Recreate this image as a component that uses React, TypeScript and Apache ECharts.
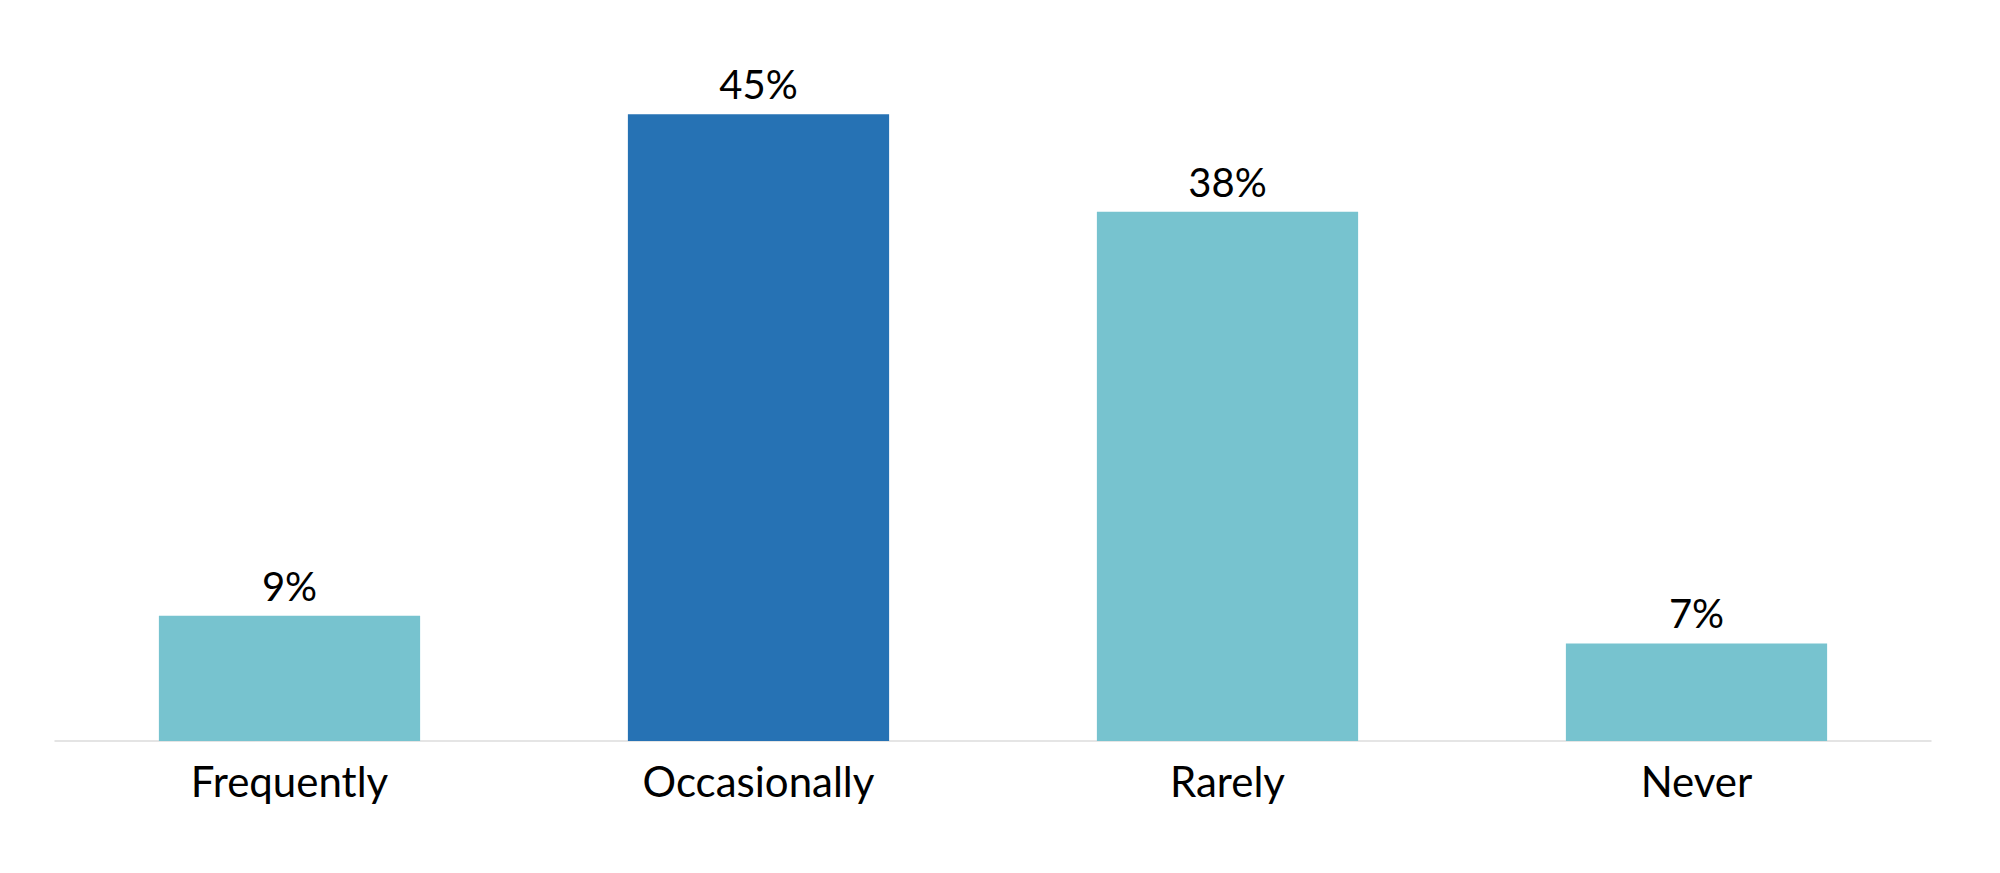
import React, { useEffect, useRef } from 'react';
import * as echarts from 'echarts';

const categories = ['Frequently', 'Occasionally', 'Rarely', 'Never'];
const values = [9, 45, 38, 7];
const highlight = 'Occasionally';

const LIGHT = '#77C3CF';
const DARK = '#2672B4';

const App: React.FC = () => {
  const chartRef: any = useRef();

  useEffect(() => {
    const chart = echarts.init(chartRef.current, null, { renderer: 'svg' });
    const option = {
      animation: false,
      textStyle: { fontFamily: 'Lato' },
      grid: { left: 55, right: 69, top: 44.5, bottom: 132, containLabel: false },
      xAxis: {
        type: 'category',
        data: categories,
        axisLine: { show: true, lineStyle: { color: '#DCDCDC', width: 1.5 } },
        axisTick: { show: false },
        axisLabel: { color: '#000', fontSize: 42, margin: 19, fontFamily: 'Lato' },
      },
      yAxis: {
        type: 'value',
        min: 0,
        max: 50,
        show: false,
        splitLine: { show: false },
      },
      series: [
        {
          type: 'bar',
          barCategoryGap: '44.3%',
          data: values.map((v, i) => ({
            value: v,
            itemStyle: { color: categories[i] === highlight ? DARK : LIGHT },
          })),
          label: {
            show: true,
            position: 'top',
            distance: 10,
            color: '#000',
            fontSize: 40,
            fontFamily: 'Lato',
            formatter: '{c}%',
          },
        },
      ],
    };
    chart.setOption(option);
    return () => {
      chart.dispose();
    };
  }, []);

  return (
    <div
      ref={chartRef}
      style={{ position: 'absolute', left: 0, top: 0, width: 2000, height: 873, background: '#fff' }}
    ></div>
  );
};

export default App;
